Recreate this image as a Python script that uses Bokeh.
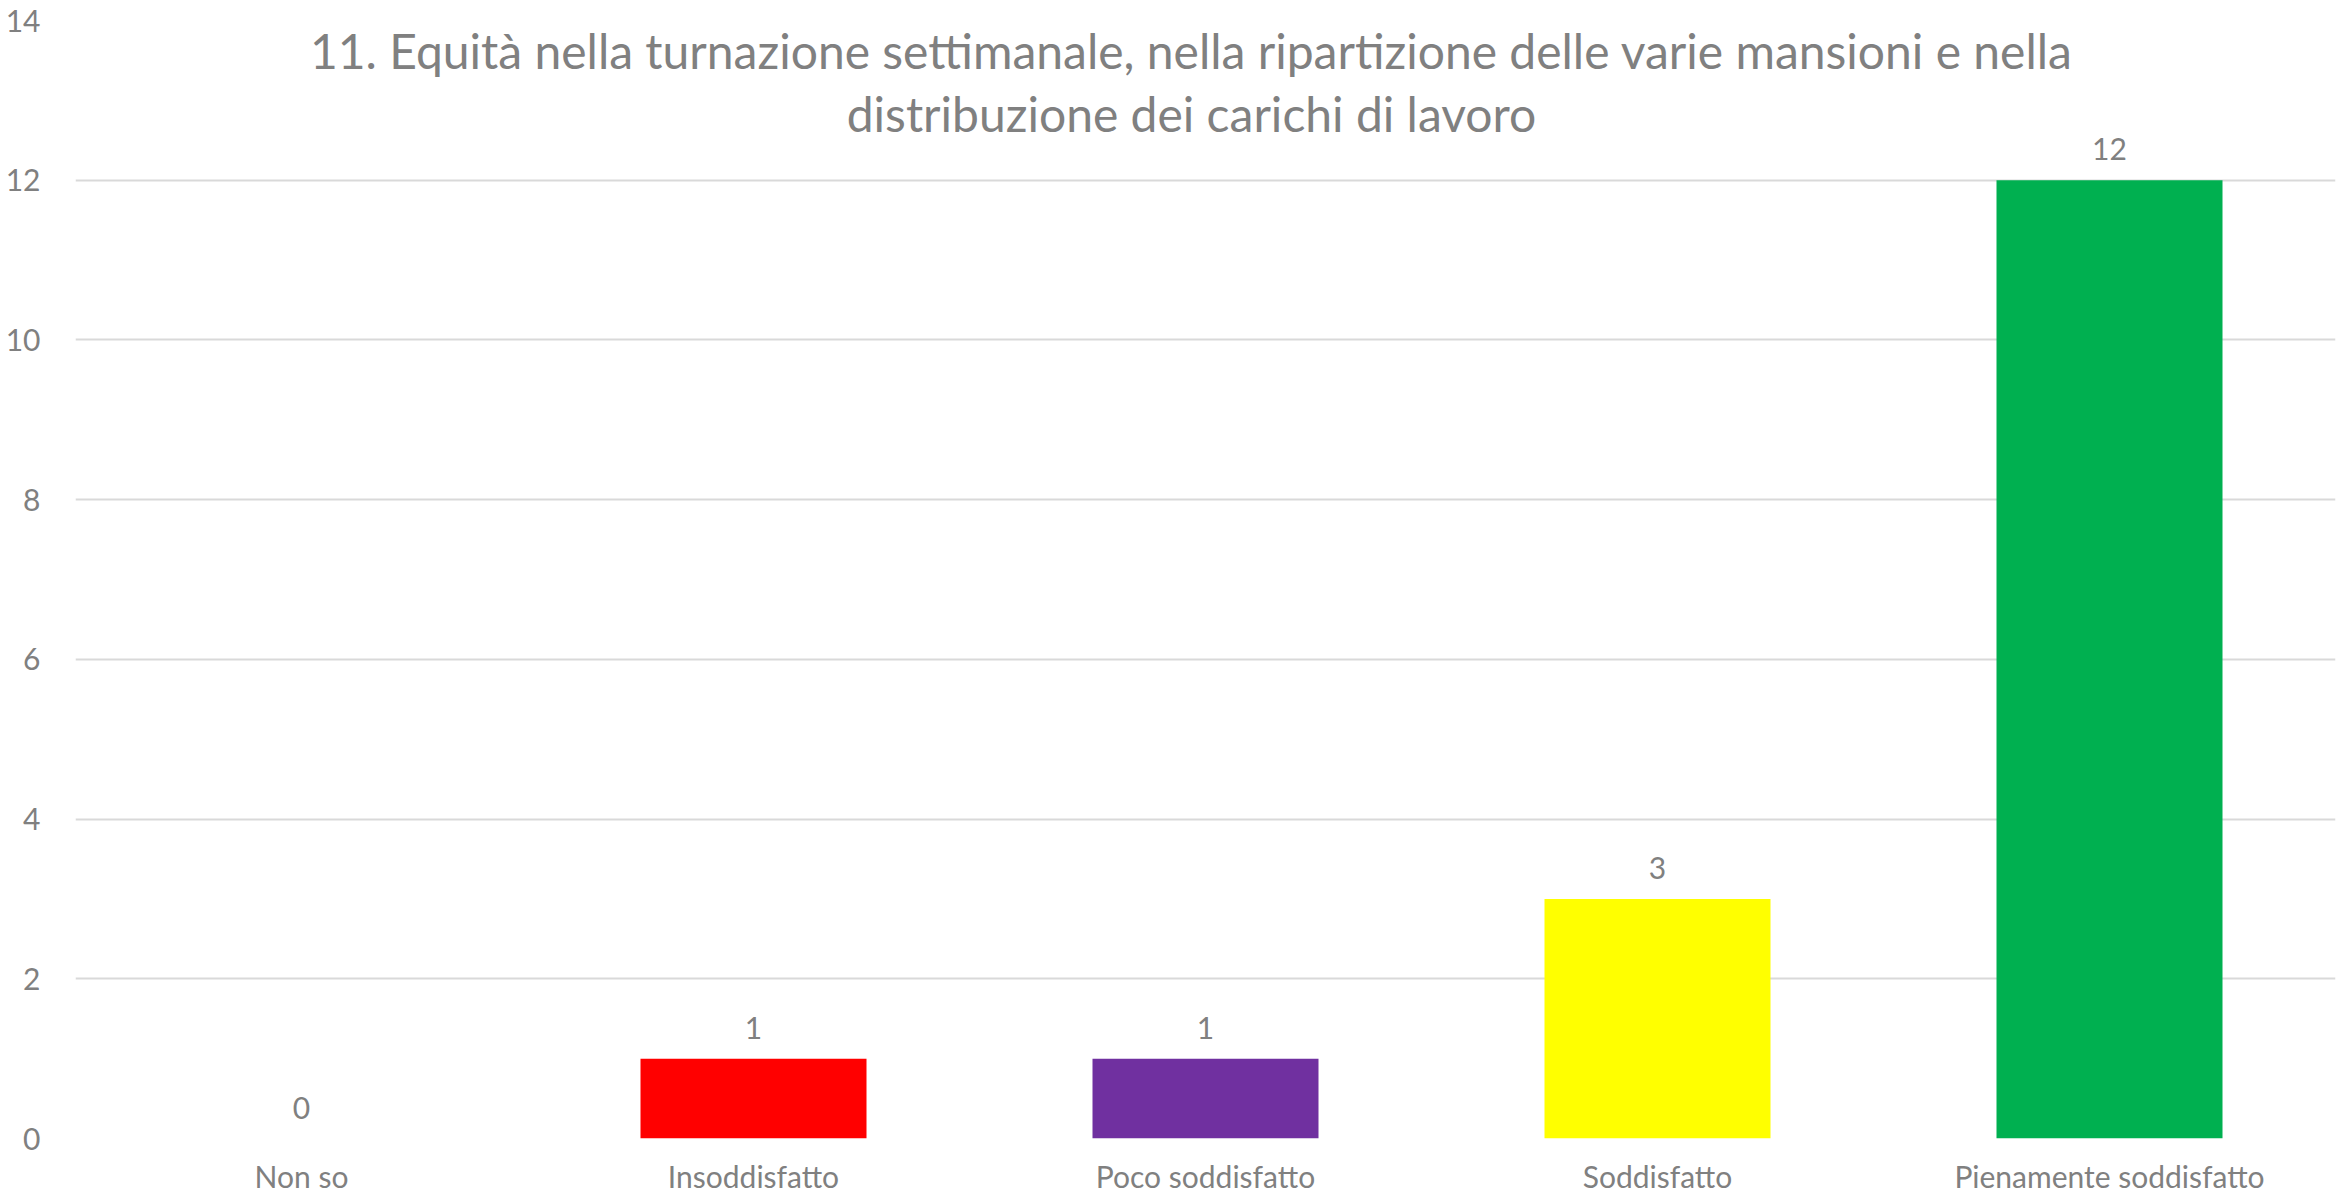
from bokeh.plotting import figure
from bokeh.models import ColumnDataSource, FactorRange, Range1d, FixedTicker, LabelSet, Label
from bokeh.core.properties import value
from bokeh.embed import file_html
from bokeh.resources import INLINE

categories = ["Non so", "Insoddisfatto", "Poco soddisfatto", "Soddisfatto", "Pienamente soddisfatto"]
values = [0, 1, 1, 3, 12]
colors = ["#A5A5A5", "#FF0000", "#7030A0", "#FFFF00", "#00B050"]
y_ticks = [0, 2, 4, 6, 8, 10, 12, 14]
title_lines = [
    "11. Equità nella turnazione settimanale, nella ripartizione delle varie mansioni e nella",
    "distribuzione dei carichi di lavoro",
]

FONT = "Lato"
GRAY = "#808080"

src = ColumnDataSource(dict(cat=categories, val=values, color=colors,
                            lbl=[str(v) for v in values]))

p = figure(x_range=FactorRange(*categories), y_range=Range1d(0, 14),
           width=2346, height=1196, output_backend="svg", toolbar_location=None,
           min_border_left=75, min_border_right=11, min_border_top=20, min_border_bottom=0)

p.vbar(x="cat", top="val", width=0.5, bottom=0, color="color", line_color=None, source=src)

labels = LabelSet(x="cat", y="val", text="lbl", source=src, text_align="center",
                  text_baseline="alphabetic", y_offset=20, text_font=value(FONT),
                  text_font_size="30px", text_color=GRAY)
p.add_layout(labels)

ys = [13.625, 12.84]
for line, yy in zip(title_lines, ys):
    p.add_layout(Label(x=2.469, y=yy, text=line, text_align="center", text_baseline="alphabetic",
                       text_font=FONT, text_font_size="48px", text_color=GRAY))

p.outline_line_color = None
p.xgrid.grid_line_color = None
p.ygrid.grid_line_color = "#D9D9D9"
p.ygrid.grid_line_width = 2
p.yaxis.ticker = FixedTicker(ticks=y_ticks)

for ax in (p.xaxis, p.yaxis):
    ax.axis_line_color = None
    ax.major_tick_line_color = None
    ax.minor_tick_line_color = None
    ax.major_label_text_font = FONT
    ax.major_label_text_font_size = "30px"
    ax.major_label_text_color = GRAY

p.yaxis.major_label_standoff = 29
p.xaxis.major_label_standoff = 13

open("out.html", "w").write(file_html(p, INLINE))
